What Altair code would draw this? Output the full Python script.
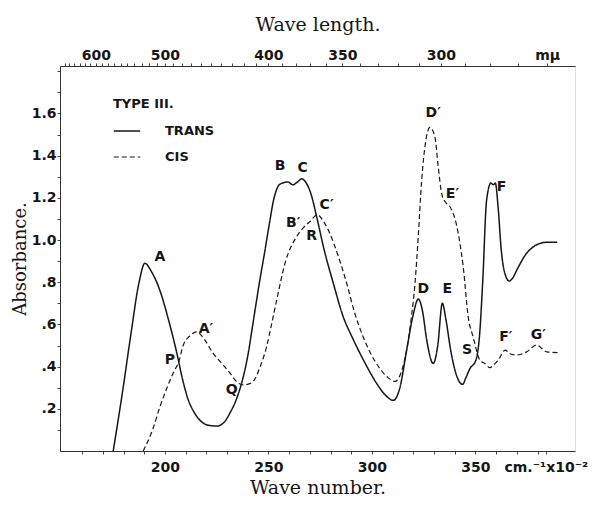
import altair as alt
import pandas as pd

# ---- data (wave number in cm^-1 x 10^-2, absorbance) ----
trans_wn = [175, 179.5, 183.5, 187.5, 190.3, 193.5, 197.6, 201.5, 205.6, 208.5,
            211, 214, 217, 221, 225, 228.5, 231.4, 234.5, 237, 240,
            242.6, 245.5, 248.3, 250.5, 252.5, 255.6, 259.4, 261.8, 264, 266,
            268.3, 270.5, 273.3, 277, 281.2, 286, 290.9, 296.5, 302.3, 306.5,
            310.3, 313.5, 316.8, 319.8, 322.4, 324.5, 326.4, 329.6, 331.8, 334,
            335.8, 338, 340.5, 343.8, 345.5, 347.3, 350.2, 352, 353.5, 355.4,
            357.5, 358.6, 359.6, 361, 362.5, 364, 366.3, 368, 370, 374.7,
            378, 381.2, 385, 389.5]
trans_abs = [0.0, 0.28, 0.55, 0.80, 0.89, 0.85, 0.76, 0.63, 0.47, 0.34,
             0.25, 0.185, 0.145, 0.122, 0.118, 0.135, 0.18, 0.245, 0.32, 0.45,
             0.61, 0.79, 0.95, 1.08, 1.19, 1.265, 1.275, 1.262, 1.275, 1.29,
             1.27, 1.22, 1.11, 0.95, 0.80, 0.64, 0.53, 0.42, 0.32, 0.265,
             0.24, 0.30, 0.48, 0.64, 0.72, 0.66, 0.53, 0.415, 0.50, 0.70,
             0.62, 0.48, 0.37, 0.316, 0.35, 0.39, 0.43, 0.55, 0.80, 1.19,
             1.27, 1.262, 1.27, 1.15, 0.95, 0.85, 0.806, 0.82, 0.858, 0.937,
             0.968, 0.984, 0.99, 0.99]

cis_wn = [189.5, 194, 197.6, 201, 204, 206.9, 208.8, 212, 215.3, 219,
          223.3, 227.5, 231.4, 234.5, 237.8, 240.5, 242.7, 246, 249.1, 251.5,
          254, 258, 263.6, 267, 270, 273.6, 276.5, 279.7, 283.5, 287.8,
          291.5, 295.8, 299.5, 303.9, 307.5, 311.1, 314, 316.8, 319, 320.8,
          322.4, 324, 326, 328, 330.4, 332, 333.7, 335.5, 337.7, 339.5,
          340.9, 342.5, 344.1, 346.5, 348.9, 352.2, 354.6, 357, 359, 361,
          364.3, 367, 369.9, 374.7, 379.5, 384.4, 390.8]
cis_abs = [0.0, 0.10, 0.21, 0.30, 0.37, 0.43, 0.50, 0.545, 0.565, 0.53,
           0.463, 0.415, 0.37, 0.33, 0.313, 0.318, 0.33, 0.40, 0.494, 0.60,
           0.716, 0.89, 1.016, 1.06, 1.087, 1.12, 1.09, 1.03, 0.93, 0.795,
           0.66, 0.54, 0.46, 0.39, 0.35, 0.33, 0.37, 0.48, 0.63, 0.795,
           1.02, 1.28, 1.47, 1.534, 1.49, 1.35, 1.22, 1.18, 1.158, 1.12,
           1.07, 0.985, 0.873, 0.636, 0.54, 0.43, 0.415, 0.395, 0.41, 0.43,
           0.478, 0.46, 0.455, 0.47, 0.502, 0.47, 0.466]

peak_names = ["A", "P", "A\u2032", "Q", "B", "C", "B\u2032", "R", "C\u2032",
              "D", "E", "S", "D\u2032", "E\u2032", "F", "F\u2032", "G\u2032"]
peak_wn = [197.6, 202.4, 219.8, 232.2, 255.6, 266.5, 262.0, 270.9, 278.1,
           324.8, 336.4, 346.0, 329.6, 338.9, 362.6, 364.7, 380.4]
peak_abs = [0.92, 0.43, 0.58, 0.29, 1.35, 1.34, 1.08, 1.02, 1.165,
            0.77, 0.77, 0.48, 1.60, 1.22, 1.25, 0.54, 0.55]

series_names = ["TRANS", "CIS"]
bottom_tick_values = list(range(160, 390, 10)) + [384]
y_tick_values = [round(0.1 * i, 1) for i in range(1, 19)]
top_major_nm = [600, 500, 400, 350, 300]
top_minor_nm = list(range(260, 670, 10))
top_tick_values = [100000 / nm for nm in top_minor_nm]   # wavelength (nm) -> wave number

assert len(trans_wn) == len(trans_abs)
assert len(cis_wn) == len(cis_abs)

df = pd.DataFrame({
    "wn": trans_wn + cis_wn,
    "abs": trans_abs + cis_abs,
    "series": [series_names[0]] * len(trans_wn) + [series_names[1]] * len(cis_wn),
})
labels_df = pd.DataFrame({"name": peak_names, "wn": peak_wn, "abs": peak_abs})

SANS = "DejaVu Sans"
SERIF = "DejaVu Serif"
INK = "#161616"

xscale = alt.Scale(domain=[149.3, 398.1], nice=False, zero=False)
yscale = alt.Scale(domain=[0, 1.825], nice=False, zero=False)

bottom_expr = ("datum.value == 384 ? 'cm.\u207b\u00b9x10\u207b\u00b2' : "
               "(datum.value % 50 == 0 ? format(datum.value, 'd') : '')")
y_expr = ("(round(datum.value * 10) % 2 == 1 || datum.value > 1.7) ? '' : "
          "(datum.value < 0.95 ? replace(format(datum.value, '.1f'), '0.', '.') : format(datum.value, '.1f'))")
top_expr = ("round(100000 / datum.value) == 260 ? 'm\u03bc' : "
            "(indexof(" + str(top_major_nm) + ", round(100000 / datum.value)) >= 0 ? "
            "format(round(100000 / datum.value), 'd') : '')")

axis_common = dict(domainColor="#333", tickColor="#444", tickWidth=1, grid=False,
                   labelFont=SANS, labelFontSize=14, labelFontWeight="bold", labelColor=INK,
                   titleFont=SERIF, titleFontSize=19, titleFontWeight="normal", titleColor=INK)

y_axis_style = dict(axis_common, titleFontSize=18)

lines = alt.Chart(df).mark_line(interpolate="monotone", clip=True, color=INK).encode(
    x=alt.X("wn:Q", scale=xscale,
            axis=alt.Axis(orient="bottom", values=bottom_tick_values, labelExpr=bottom_expr,
                          title="Wave number.", tickSize=3, labelPadding=6, titlePadding=4,
                          labelOverlap=False, labelFlush=False, **axis_common)),
    y=alt.Y("abs:Q", scale=yscale,
            axis=alt.Axis(orient="left", values=y_tick_values, labelExpr=y_expr,
                          title="Absorbance.", tickSize=3, labelPadding=1, titlePadding=2,
                          labelOverlap=False, **y_axis_style)),
    strokeDash=alt.StrokeDash("series:N",
                              scale=alt.Scale(domain=series_names, range=[[1, 0], [5, 3]]),
                              legend=alt.Legend(title="TYPE III.", orient="none", legendX=53, legendY=32,
                                                symbolType="stroke", symbolSize=700,
                                                symbolStrokeColor=INK, symbolStrokeWidth=1.6,
                                                labelFont=SANS, labelFontSize=13, labelFontWeight="bold",
                                                labelColor=INK, labelOffset=24,
                                                titleFont=SANS, titleFontSize=13, titleFontWeight="bold",
                                                titleColor=INK, titlePadding=6, rowPadding=5, padding=0)),
    strokeWidth=alt.StrokeWidth("series:N",
                                scale=alt.Scale(domain=series_names, range=[1.5, 1.2]), legend=None),
)

text = alt.Chart(labels_df).mark_text(font=SANS, fontSize=14, fontWeight="bold", color=INK).encode(
    x=alt.X("wn:Q", scale=xscale,
            axis=alt.Axis(orient="top", values=top_tick_values, labelExpr=top_expr,
                          title="Wave length.", tickSize=3, labelPadding=1, titlePadding=14,
                          labelOverlap=False, labelFlush=False, **axis_common)),
    y=alt.Y("abs:Q", scale=yscale, axis=None),
    text="name:N",
)

chart = (
    alt.layer(lines, text)
    .resolve_scale(x="shared", y="shared")
    .resolve_axis(x="independent", y="independent")
    .properties(width=515, height=385, autosize="none",
                padding={"left": 52, "top": 58, "right": 20, "bottom": 48})
    .configure_view(stroke="#333", strokeWidth=1)
    .configure(background="white")
)

chart.save("out.html", embed_options={"renderer": "svg", "actions": False})
